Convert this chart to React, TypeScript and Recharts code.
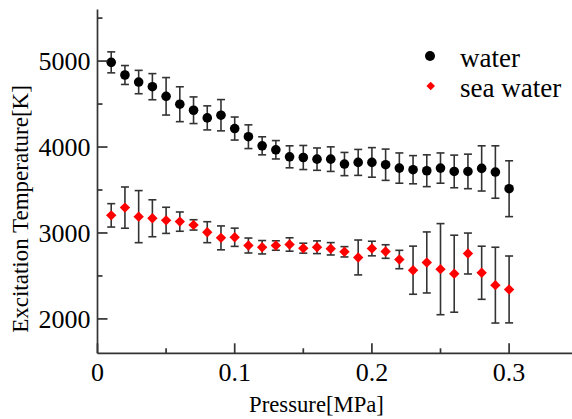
import React from 'react';
import { ScatterChart, Scatter, XAxis, YAxis, ErrorBar, Legend } from 'recharts';

const pressure = [0.01, 0.02, 0.03, 0.04, 0.05, 0.06, 0.07, 0.08, 0.09, 0.1, 0.11, 0.12, 0.13, 0.14, 0.15, 0.16, 0.17, 0.18, 0.19, 0.2, 0.21, 0.22, 0.23, 0.24, 0.25, 0.26, 0.27, 0.28, 0.29, 0.3];
const waterT = [4985, 4838, 4756, 4702, 4590, 4498, 4428, 4339, 4370, 4215, 4120, 4014, 3968, 3886, 3878, 3859, 3859, 3802, 3821, 3821, 3794, 3755, 3736, 3724, 3755, 3716, 3716, 3751, 3709, 3515];
const waterErr = [122, 110, 136, 152, 218, 203, 155, 140, 182, 134, 138, 105, 107, 128, 140, 130, 143, 135, 151, 172, 182, 176, 164, 185, 176, 190, 201, 263, 305, 325];
const seaT = [3205, 3295, 3190, 3171, 3147, 3132, 3094, 3009, 2943, 2950, 2854, 2834, 2854, 2866, 2823, 2834, 2816, 2781, 2715, 2819, 2784, 2691, 2567, 2657, 2579, 2526, 2761, 2537, 2393, 2343];
const seaErr = [136, 240, 303, 215, 152, 112, 60, 122, 139, 106, 87, 78, 55, 78, 58, 74, 72, 60, 203, 85, 79, 107, 280, 355, 530, 448, 238, 309, 441, 389];
const seriesNames = ['water', 'sea water'];

const xTicks = [0, 0.05, 0.1, 0.15, 0.2, 0.25, 0.3, 0.35];
const xLabelTicks = [0, 0.1, 0.2, 0.3];
const yTicks = [2000, 2500, 3000, 3500, 4000, 4500, 5000, 5500];
const yLabelTicks = [2000, 3000, 4000, 5000];

const waterData = pressure.map((p, i) => ({ x: p, y: waterT[i], err: waterErr[i] }));
const seaData = pressure.map((p, i) => ({ x: p, y: seaT[i], err: seaErr[i] }));

const FONT = '"Liberation Serif", "Times New Roman", serif';
const AX = '#333';
const AXW = 1.7;
const MAJOR = 10;
const MINOR = 5;

const isXLabel = (v: number) => xLabelTicks.some((t) => Math.abs(t - v) < 1e-9);
const isYLabel = (v: number) => yLabelTicks.some((t) => Math.abs(t - v) < 1e-9);

const BottomTick = (props: any) => {
  const { x, y, payload } = props;
  const major = isXLabel(payload.value);
  return (
    <g>
      <line x1={x} y1={y} x2={x} y2={y - (major ? MAJOR : MINOR)} stroke={AX} strokeWidth={AXW} />
      {major && (
        <text x={x} y={y + 27.3} textAnchor="middle" fontSize={26} fontFamily={FONT} fill="#000">
          {String(payload.value)}
        </text>
      )}
    </g>
  );
};

const TopTick = (props: any) => {
  const { x, y, payload } = props;
  const major = isXLabel(payload.value);
  return <line x1={x} y1={y} x2={x} y2={y + (major ? MAJOR : MINOR)} stroke={AX} strokeWidth={AXW} />;
};

const LeftTick = (props: any) => {
  const { x, y, payload } = props;
  const major = isYLabel(payload.value);
  return (
    <g>
      <line x1={x} y1={y} x2={x + (major ? MAJOR : MINOR)} y2={y} stroke={AX} strokeWidth={AXW} />
      {major && (
        <text x={x - 7} y={y + 8.7} textAnchor="end" fontSize={26} fontFamily={FONT} fill="#000">
          {String(payload.value)}
        </text>
      )}
    </g>
  );
};

const RightTick = (props: any) => {
  const { x, y, payload } = props;
  const major = isYLabel(payload.value);
  return <line x1={x} y1={y} x2={x - (major ? MAJOR : MINOR)} y2={y} stroke={AX} strokeWidth={AXW} />;
};

const XTitle = (props: any) => {
  const vb = props.viewBox || { x: 97.5, y: 353.3, width: 480.2, height: 60 };
  return (
    <text x={vb.x + 219} y={vb.y + 59} textAnchor="middle" fontSize={22.7} fontFamily={FONT} fill="#000">
      Pressure[MPa]
    </text>
  );
};

const YTitle = (props: any) => {
  const vb = props.viewBox || { x: 0, y: 9.5, width: 97.5, height: 343.8 };
  const cx = vb.x + 28;
  const cy = vb.y + 199.5;
  return (
    <text x={cx} y={cy} transform={`rotate(-90 ${cx} ${cy})`} textAnchor="middle" fontSize={23} fontFamily={FONT} fill="#000">
      Excitation Temperature[K]
    </text>
  );
};

const diamondPoints = (cx: number, cy: number, h: number) =>
  `${cx},${cy - h} ${cx + h},${cy} ${cx},${cy + h} ${cx - h},${cy}`;

const WaterShape = (props: any) => <circle cx={props.cx} cy={props.cy} r={4.8} fill="#000" />;
const SeaShape = (props: any) => <polygon points={diamondPoints(props.cx, props.cy, 5.2)} fill="#ff0000" />;

const LegendContent = () => (
  <svg width={170} height={80}>
    <circle cx={20} cy={20} r={5} fill="#000" />
    <text x={50} y={30.7} fontSize={27} fontFamily={FONT} fill="#000">{seriesNames[0]}</text>
    <polygon points={diamondPoints(20.7, 50, 4.3)} fill="#ff0000" />
    <text x={50} y={60.7} fontSize={27} fontFamily={FONT} fill="#000">{seriesNames[1]}</text>
  </svg>
);

export default function App() {
  return (
    <div style={{ position: 'fixed', left: 0, top: 0, width: 572, height: 419, overflow: 'hidden', background: '#fff' }}>
      <ScatterChart width={600} height={419} margin={{ top: 9.5, right: 22.3, left: 0, bottom: 5.7 }}>
        <XAxis
          xAxisId="bottom"
          type="number"
          dataKey="x"
          domain={[0, 0.35]}
          ticks={xTicks}
          interval={0}
          orientation="bottom"
          height={60}
          tickSize={0}
          tickMargin={0}
          tickLine={false}
          axisLine={{ stroke: AX, strokeWidth: AXW }}
          tick={<BottomTick />}
          label={<XTitle />}
          allowDataOverflow
        />
        <XAxis
          xAxisId="top"
          type="number"
          dataKey="x"
          domain={[0, 0.35]}
          ticks={xTicks}
          interval={0}
          orientation="top"
          height={0}
          tickSize={0}
          tickMargin={0}
          tickLine={false}
          axisLine={{ stroke: AX, strokeWidth: AXW }}
          tick={<TopTick />}
          allowDataOverflow
        />
        <YAxis
          yAxisId="left"
          type="number"
          dataKey="y"
          domain={[1600, 5600]}
          ticks={yTicks}
          interval={0}
          orientation="left"
          width={97.5}
          tickSize={0}
          tickMargin={0}
          tickLine={false}
          axisLine={{ stroke: AX, strokeWidth: AXW }}
          tick={<LeftTick />}
          label={<YTitle />}
          allowDataOverflow
        />
        <YAxis
          yAxisId="right"
          type="number"
          dataKey="y"
          domain={[1600, 5600]}
          ticks={yTicks}
          interval={0}
          orientation="right"
          width={0}
          tickSize={0}
          tickMargin={0}
          tickLine={false}
          axisLine={{ stroke: AX, strokeWidth: AXW }}
          tick={<RightTick />}
          allowDataOverflow
        />
        <Legend
          layout="horizontal"
          align="center"
          verticalAlign="middle"
          content={<LegendContent />}
          wrapperStyle={{ position: 'absolute', left: 410, top: 36, width: 170, height: 80 }}
        />
        <Scatter
          name={seriesNames[0]}
          data={waterData}
          xAxisId="bottom"
          yAxisId="left"
          fill="#000"
          shape={<WaterShape />}
          isAnimationActive={false}
        >
          <ErrorBar dataKey="err" direction="y" width={4} stroke={AX} strokeWidth={1.6} isAnimationActive={false} />
        </Scatter>
        <Scatter
          name={seriesNames[1]}
          data={seaData}
          xAxisId="bottom"
          yAxisId="left"
          fill="#ff0000"
          shape={<SeaShape />}
          isAnimationActive={false}
        >
          <ErrorBar dataKey="err" direction="y" width={4} stroke={AX} strokeWidth={1.6} isAnimationActive={false} />
        </Scatter>
      </ScatterChart>
    </div>
  );
}
